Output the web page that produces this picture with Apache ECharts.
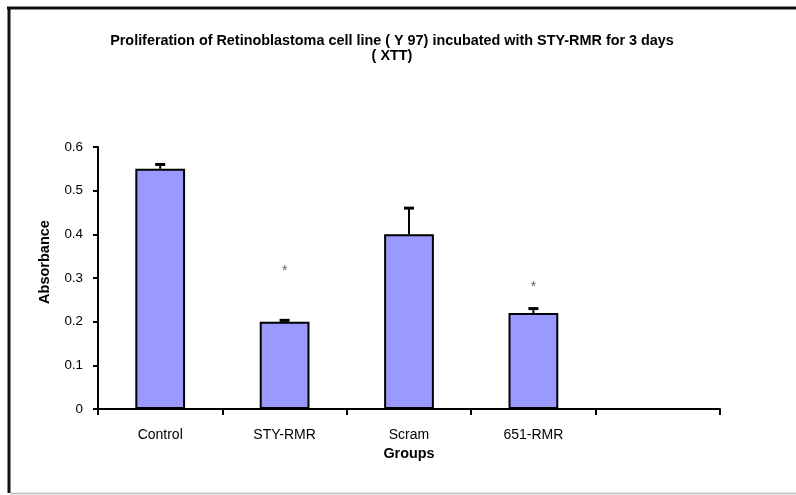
<!DOCTYPE html>
<html>
<head>
<meta charset="utf-8">
<script src="https://cdn.jsdelivr.net/npm/echarts@6/dist/echarts.min.js"></script>
<style>html,body{margin:0;padding:0;background:#fff;}#c{width:796px;height:495px;}</style>
</head>
<body>
<div id="c"></div>
<script>
var categories = ['Control', 'STY-RMR', 'Scram', '651-RMR', ''];
var absorbance = [0.55, 0.20, 0.40, 0.22, null];
var errorTop = [0.56, 0.203, 0.46, 0.23, null];
var starValues = [null, 0.315, null, 0.28, null];
var yTicks = { min: 0, max: 0.6, interval: 0.1 };

var chart = echarts.init(document.getElementById('c'), null, { renderer: 'canvas' });
var font = 'Liberation Sans, Arial, sans-serif';

var errData = [];
var starData = [];
for (var i = 0; i < categories.length; i++) {
  if (absorbance[i] != null) errData.push([i, absorbance[i], errorTop[i]]);
  if (starValues[i] != null) starData.push([i, starValues[i]]);
}

chart.setOption({
  animation: false,
  backgroundColor: '#ffffff',
  title: {
    text: 'Proliferation of Retinoblastoma cell line ( Y 97) incubated with STY-RMR for 3 days\n( XTT)',
    left: 387,
    top: 29,
    textAlign: 'center',
    textStyle: { fontFamily: font, fontSize: 14.4, fontWeight: 'bold', color: '#000', lineHeight: 15 }
  },
  graphic: [
    { type: 'line', shape: { x1: 9, y1: 7, x2: 9, y2: 493 }, style: { stroke: '#111', lineWidth: 3 } },
    { type: 'line', shape: { x1: 7, y1: 8, x2: 796, y2: 8 }, style: { stroke: '#111', lineWidth: 3 } },
    { type: 'line', shape: { x1: 10, y1: 493.5, x2: 796, y2: 493.5 }, style: { stroke: '#c8c8c8', lineWidth: 2 } },
    {
      type: 'text', x: 45, y: 262, rotation: Math.PI / 2,
      style: { text: 'Absorbance', fontFamily: font, fontSize: 14.5, fontWeight: 'bold', fill: '#000', align: 'center', verticalAlign: 'middle' }
    }
  ],
  grid: { left: 98, right: 76, top: 147, bottom: 86, containLabel: false },
  xAxis: {
    type: 'category',
    data: categories,
    name: 'Groups',
    nameLocation: 'middle',
    nameGap: 31,
    nameTextStyle: { fontFamily: font, fontSize: 14.4, fontWeight: 'bold', color: '#000' },
    axisLine: { lineStyle: { color: '#000', width: 2 } },
    axisTick: { show: true, alignWithLabel: false, length: 6, lineStyle: { color: '#000', width: 2 } },
    axisLabel: { fontFamily: font, fontSize: 14, color: '#000', margin: 19 },
    splitLine: { show: false }
  },
  yAxis: {
    type: 'value',
    min: yTicks.min,
    max: yTicks.max,
    interval: yTicks.interval,
    axisLine: { show: true, lineStyle: { color: '#000', width: 2 } },
    axisTick: { show: true, inside: false, length: 5, lineStyle: { color: '#000', width: 2 } },
    axisLabel: { fontFamily: font, fontSize: 13.4, color: '#000', margin: 15 },
    splitLine: { show: false }
  },
  series: [
    {
      type: 'bar',
      data: absorbance,
      barWidth: '40%',
      itemStyle: { color: '#9999ff', borderColor: '#000', borderWidth: 2 },
      z: 2
    },
    {
      type: 'custom',
      data: errData,
      z: 3,
      renderItem: function (params, api) {
        var x = api.value(0);
        var low = api.coord([x, api.value(1)]);
        var high = api.coord([x, api.value(2)]);
        var hw = 5;
        return {
          type: 'group',
          children: [
            { type: 'line', shape: { x1: low[0], y1: low[1], x2: high[0], y2: high[1] }, style: { stroke: '#000', lineWidth: 2 } },
            { type: 'line', shape: { x1: high[0] - hw, y1: high[1], x2: high[0] + hw, y2: high[1] }, style: { stroke: '#000', lineWidth: 3 } }
          ]
        };
      }
    },
    {
      type: 'scatter',
      data: starData,
      symbolSize: 0,
      label: {
        show: true,
        position: 'inside',
        formatter: '*',
        fontFamily: font,
        fontSize: 14,
        color: '#333'
      },
      z: 4
    }
  ]
});
</script>
</body>
</html>
